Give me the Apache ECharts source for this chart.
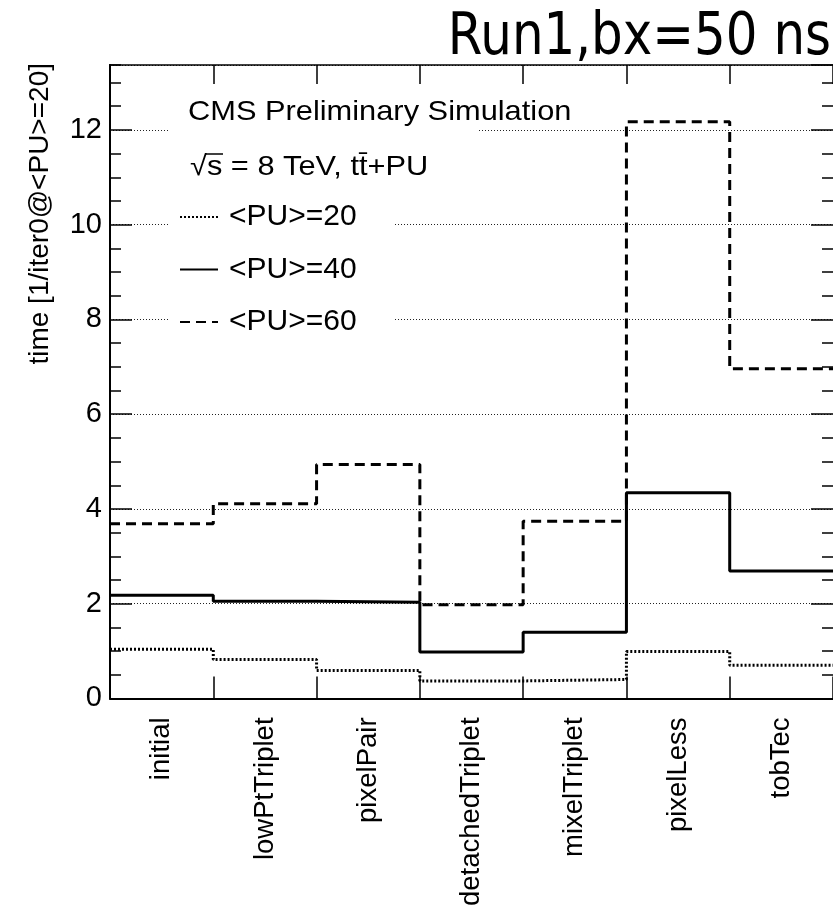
<!DOCTYPE html>
<html>
<head>
<meta charset="utf-8">
<script src="https://cdn.jsdelivr.net/npm/echarts@6/dist/echarts.min.js"></script>
<style>html,body{margin:0;padding:0;background:#fff;}#c{width:833px;height:909px;}</style>
</head>
<body>
<div id="c"></div>
<script>
// ---- data ----
var categories = ['initial', 'lowPtTriplet', 'pixelPair', 'detachedTriplet', 'mixelTriplet', 'pixelLess', 'tobTec'];
var seriesNames = ['<PU>=20', '<PU>=40', '<PU>=60'];
var pu20 = [1.04, 0.82, 0.59, 0.37, 0.40, 0.99, 0.70];
var pu40 = [2.18, 2.05, 2.03, 0.98, 1.40, 4.34, 2.69];
var pu60 = [3.69, 4.11, 4.94, 1.98, 3.74, 12.17, 6.96];
var yMin = 0, yMax = 13.37, yMajor = 2, yMinor = 0.5;
var yTitle = 'time [1/iter0@<PU>=20]';
var titleText = 'Run1,bx=50 ns';
var headerText = 'CMS Preliminary Simulation';
var energyText = '\u221As = 8 TeV, tt\u0304+PU';

function steps(vals) {
  var d = vals.map(function (v, i) { return [i, v]; });
  d.push([vals.length, vals[vals.length - 1]]);
  return d;
}

var FONT = 'Liberation Sans';
var chart = echarts.init(document.getElementById('c'), null, {renderer: 'canvas'});

function yAx(pos, interval, len, opts) {
  return Object.assign({
    type: 'value', position: pos, min: yMin, max: yMax, interval: interval,
    axisLine: {show: pos === 'left', onZero: false, lineStyle: {color: '#000', width: 2}},
    axisTick: {show: true, inside: true, length: len, lineStyle: {color: '#000', width: 1.5}},
    axisLabel: {show: false},
    splitLine: {show: false}
  }, opts || {});
}

var option = {
  animation: false,
  backgroundColor: '#fff',
  grid: {left: 110, top: 65, right: 0, bottom: 206, containLabel: false},
  xAxis: [
    {type: 'value', min: 0, max: categories.length, interval: 1, position: 'bottom',
     axisLine: {show: true, onZero: false, lineStyle: {color: '#000', width: 2}},
     axisTick: {show: true, inside: true, length: 22, lineStyle: {color: '#000', width: 1.5}},
     axisLabel: {show: false}, splitLine: {show: false}},
    {type: 'category', data: categories, position: 'bottom', boundaryGap: true,
     axisLine: {show: false, onZero: false}, axisTick: {show: false},
     axisLabel: {show: true, rotate: 90, margin: 19, interval: 0, color: '#000', fontFamily: FONT, fontSize: 27.5},
     splitLine: {show: false}},
    {type: 'value', min: 0, max: categories.length, interval: 1, position: 'top',
     axisLine: {show: true, onZero: false, lineStyle: {color: '#000', width: 1.5}},
     axisTick: {show: true, inside: true, length: 19, lineStyle: {color: '#000', width: 1.5}},
     axisLabel: {show: false}, splitLine: {show: false}}
  ],
  yAxis: [
    yAx('left', yMajor, 22, {
      axisLabel: {show: true, margin: 8, color: '#000', fontFamily: FONT, fontSize: 29, showMaxLabel: false},
      splitLine: {show: true, lineStyle: {color: '#222', width: 1, type: [1, 2]}}
    }),
    yAx('left', yMinor, 11),
    yAx('right', yMajor, 22),
    yAx('right', yMinor, 11)
  ],
  legend: {
    orient: 'vertical', left: 170, top: 182,
    padding: [20, 37, 20, 9],
    itemWidth: 38, itemHeight: 14, itemGap: 22.5,
    backgroundColor: '#fff',
    data: seriesNames,
    itemStyle: {opacity: 0},
    textStyle: {color: '#000', fontFamily: FONT, fontSize: 30, padding: [0, 0, 0, 6]},
    z: 6
  },
  series: [
    {name: seriesNames[0], type: 'line', step: 'end', symbol: 'none', xAxisIndex: 0, yAxisIndex: 0,
     data: steps(pu20), lineStyle: {color: '#000', width: 3, type: [2, 2]}, itemStyle: {color: '#000'}, z: 3},
    {name: seriesNames[1], type: 'line', step: 'end', symbol: 'none', xAxisIndex: 0, yAxisIndex: 0,
     data: steps(pu40), lineStyle: {color: '#000', width: 3, type: 'solid'}, itemStyle: {color: '#000'}, z: 4},
    {name: seriesNames[2], type: 'line', step: 'end', symbol: 'none', xAxisIndex: 0, yAxisIndex: 0,
     data: steps(pu60), lineStyle: {color: '#000', width: 3, type: [10, 6]}, itemStyle: {color: '#000'}, z: 3}
  ],
  graphic: [
    {type: 'rect', z: 5, shape: {x: 170, y: 88, width: 307, height: 60}, style: {fill: '#fff'}},
    {type: 'text', z: 10, x: 831, y: 39, scaleX: 0.86,
     style: {text: titleText, fill: '#000', fontFamily: 'DejaVu Sans', fontSize: 58, align: 'right', verticalAlign: 'middle'}},
    {type: 'text', z: 10, x: 40, y: 63, rotation: Math.PI / 2,
     style: {text: yTitle, fill: '#000', fontFamily: FONT, fontSize: 28, align: 'right', verticalAlign: 'middle'}},
    {type: 'text', z: 10, x: 188, y: 112, scaleX: 1.1,
     style: {text: headerText, fill: '#000', fontFamily: FONT, fontSize: 28, align: 'left', verticalAlign: 'middle'}},
    {type: 'text', z: 10, x: 190, y: 167, scaleX: 1.1,
     style: {text: energyText, fill: '#000', fontFamily: FONT, fontSize: 28, align: 'left', verticalAlign: 'middle'}},
    {type: 'line', z: 10, shape: {x1: 205, y1: 154, x2: 223, y2: 154}, style: {stroke: '#000', lineWidth: 1.5}}
  ]
};
chart.setOption(option);
</script>
</body>
</html>
